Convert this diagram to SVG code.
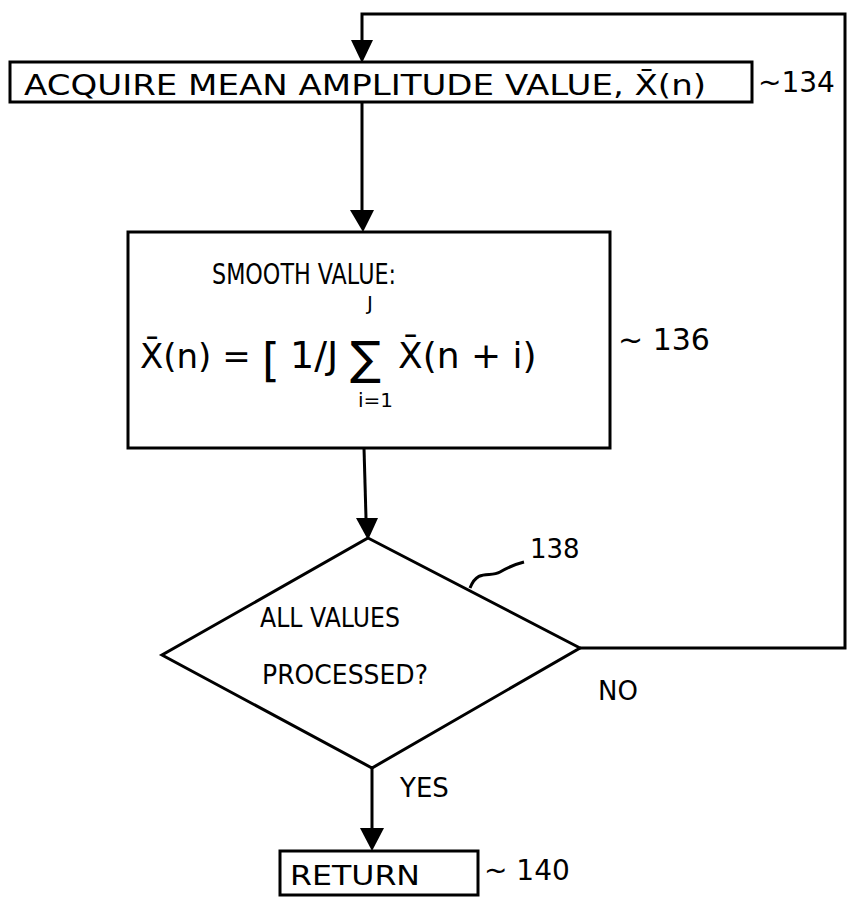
<svg xmlns="http://www.w3.org/2000/svg" width="850" height="900" viewBox="0 0 850 900">
<style>
.box{fill:none;stroke:#000;stroke-width:3}
.ln{fill:none;stroke:#000;stroke-width:3}
.ah{fill:#000}
.t{font-family:"DejaVu Sans","Liberation Sans",sans-serif;fill:#000}
</style>
<rect width="850" height="900" fill="#fff"/>
<g id="connectors">
<path class="ln" d="M580,648 L845,648 L845,14 L362,14 L362,40"/>
<path class="ah" d="M351,40 L373,40 L362,63 Z"/>
<path class="ln" d="M362,102 L362,210"/>
<path class="ah" d="M350,210 L374,210 L363,232 Z"/>
<path class="ln" d="M364,448 L366,518"/>
<path class="ah" d="M356,518 L378,518 L368,540 Z"/>
<path class="ln" d="M372,768 L372,828"/>
<path class="ah" d="M360,828 L384,828 L372,851 Z"/>
<text class="t" x="598" y="700" font-size="26">NO</text>
<text class="t" x="400" y="797" font-size="26">YES</text>
</g>
<g id="n134">
<rect class="box" x="10" y="62" width="742" height="40"/>
<text class="t" x="24" y="95" font-size="28" textLength="682" lengthAdjust="spacingAndGlyphs">ACQUIRE MEAN AMPLITUDE VALUE, X&#x304;(n)</text>
<text class="t" x="758" y="92" font-size="28">~134</text>
</g>
<g id="n136">
<rect class="box" x="128" y="232" width="482" height="216"/>
<text class="t" x="212" y="284" font-size="28" textLength="184" lengthAdjust="spacingAndGlyphs">SMOOTH VALUE:</text>
<text class="t" x="367" y="310" font-size="20">J</text>
<text class="t" x="140" y="368" font-size="34">X&#x304;(n) =</text>
<text class="t" x="262" y="376" font-size="46">[</text>
<text class="t" x="290" y="368" font-size="38">1/J</text>
<text class="t" x="350" y="374" font-size="46">&#x2211;</text>
<text class="t" x="398" y="368" font-size="36">X&#x304;(n + i)</text>
<text class="t" x="358" y="407" font-size="20">i=1</text>
<text class="t" x="618" y="350" font-size="30">~ 136</text>
</g>
<g id="n138">
<polygon class="box" points="368,538 580,648 372,768 162,655"/>
<text class="t" x="260" y="627" font-size="26" textLength="140" lengthAdjust="spacingAndGlyphs">ALL VALUES</text>
<text class="t" x="262" y="684" font-size="26" textLength="166" lengthAdjust="spacingAndGlyphs">PROCESSED?</text>
<path class="ln" d="M470,588 C478,568 490,578 500,572 C510,566 516,564 524,562" stroke-width="2"/>
<text class="t" x="530" y="558" font-size="26">138</text>
</g>
<g id="n140">
<rect class="box" x="280" y="851" width="198" height="44"/>
<text class="t" x="290" y="885" font-size="26" textLength="130" lengthAdjust="spacingAndGlyphs">RETURN</text>
<text class="t" x="484" y="880" font-size="28">~ 140</text>
</g>
</svg>
